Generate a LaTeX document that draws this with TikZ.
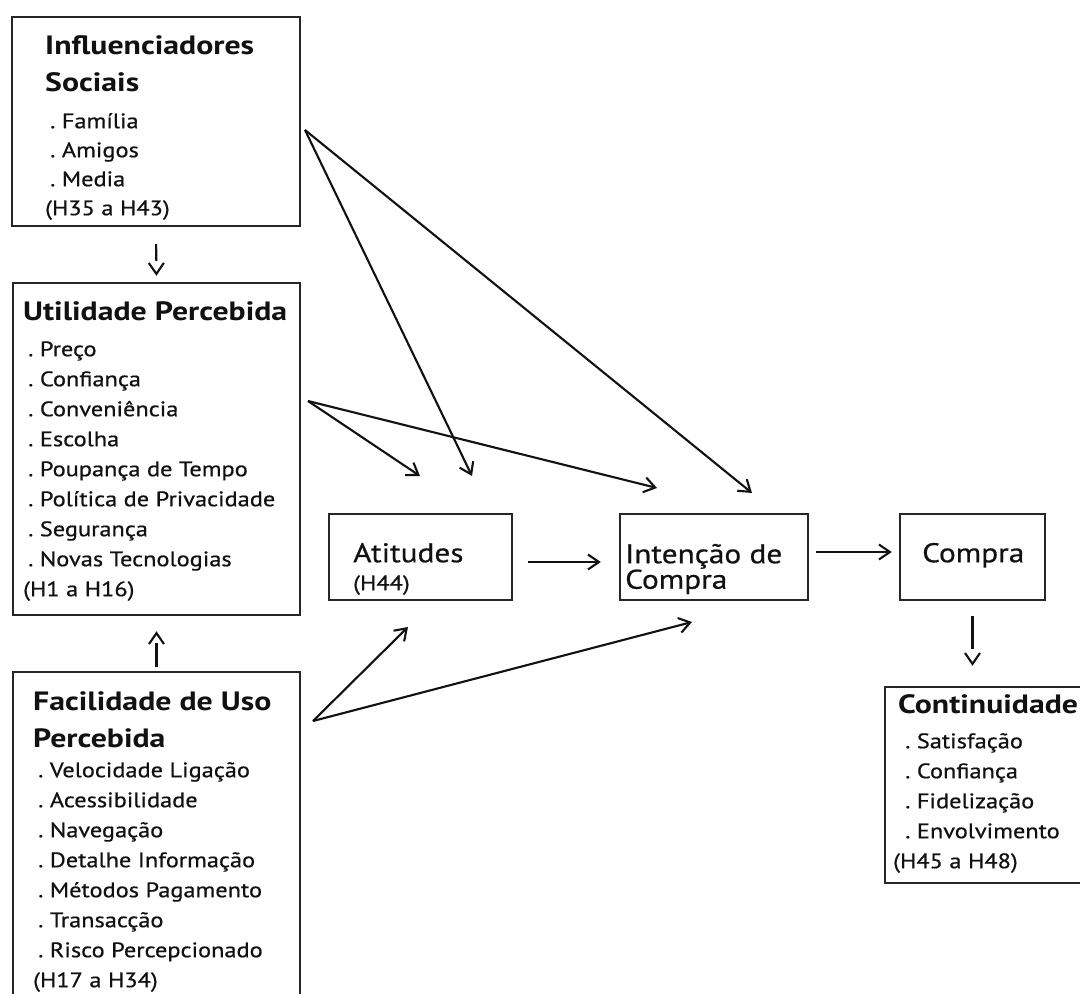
\documentclass[tikz,border=0pt]{standalone}
\usepackage{fontspec}
\setmainfont{PT Sans}[FakeStretch=1.16, UprightFeatures={FakeBold=0.6}, BoldFeatures={FakeStretch=1.2}]
\usetikzlibrary{arrows.meta}
\definecolor{ink}{HTML}{111111}
\definecolor{frame}{HTML}{262626}
% headings, list items and a strut that fixes the height of a first line
\newcommand{\hd}[1]{{\bfseries\fontsize{26.5}{30}\selectfont #1}}
\newcommand{\itm}{\hspace*{5pt}.\ }
\newcommand{\fst}{\rule{0pt}{20pt}}
\newcommand{\fstbig}{\rule{0pt}{22pt}}
\tikzset{
  box/.style={draw=frame, line width=2.4pt, inner sep=0pt},
  txt/.style={anchor=north west, inner sep=0pt, align=left, text=ink},
  conn/.style={draw=ink, line width=2.1pt,
    -{Straight Barb[length=11pt, width=15pt]}},
  % a short stroke, a gap, then the tip on its own
  gapconn/.style={conn, dash pattern=on #1 off 80pt},
  listfont/.style={font=\fontsize{21}{#1}\selectfont},
  bigfont/.style={font=\fontsize{27}{#1}\selectfont},
}
\begin{document}
\begin{tikzpicture}[x=1pt, y=-1pt]
\useasboundingbox (0,0) rectangle (1080,994);
\clip (0,0) rectangle (1080,994);
\fill[white] (0,0) rectangle (1080,994);

% ---- boxes ----
\node[box, minimum width=288pt, minimum height=209pt] (inf)  at (156,121.5) {};
\node[box, minimum width=287pt, minimum height=332pt] (util) at (156.5,449) {};
\node[box, minimum width=287pt, minimum height=338pt] (fac)  at (156.5,841) {};
\node[box, minimum width=183pt, minimum height=86pt]  (att)  at (420.5,557) {};
\node[box, minimum width=188pt, minimum height=86pt]  (int)  at (714,557) {};
\node[box, minimum width=145pt, minimum height=86pt]  (buy)  at (972.5,557) {};
\node[box, minimum width=210pt, minimum height=196pt] (cont) at (990,785) {};

% ---- texts ----
\node[txt, listfont=29] (infT) at (45,34) {%
  \fst\hd{Influenciadores}\\[8pt]
  \hd{Sociais}\\[8pt]
  \itm Família\\
  \itm Amigos\\
  \itm Media\\
  (H35 a H43)};

\node[txt, listfont=30] (utilT) at (23,300) {%
  \fst\hd{Utilidade Percebida}\\[6pt]
  \itm Preço\\
  \itm Confiança\\
  \itm Conveniência\\
  \itm Escolha\\
  \itm Poupança de Tempo\\
  \itm Política de Privacidade\\
  \itm Segurança\\
  \itm Novas Tecnologias\\
  (H1 a H16)};

\node[txt, listfont=30] (facT) at (33,690) {%
  \fst\hd{Facilidade de Uso}\\[7pt]
  \hd{Percebida}\\
  \itm Velocidade Ligação\\
  \itm Acessibilidade\\
  \itm Navegação\\
  \itm Detalhe Informação\\
  \itm Métodos Pagamento\\
  \itm Transacção\\
  \itm Risco Percepcionado\\
  (H17 a H34)};

\node[txt, bigfont=28] (attT) at (353,540) {%
  \fstbig Atitudes\\
  {\fontsize{21}{28}\selectfont (H44)}};

\node[txt, bigfont=25.5] (intT) at (625,541) {%
  \fstbig Intenção de\\
  Compra};

\node[txt, bigfont=28] (buyT) at (922,540) {\fstbig Compra};

\node[txt, listfont=30] (contT) at (893,693) {%
  \fst\hspace*{5pt}\hd{Continuidade}\\[5pt]
  \hspace*{7pt}\itm Satisfação\\
  \hspace*{7pt}\itm Confiança\\
  \hspace*{7pt}\itm Fidelização\\
  \hspace*{7pt}\itm Envolvimento\\
  (H45 a H48)};

% ---- connector ends ----
\coordinate (infOut)  at (305,130);
\coordinate (utilOut) at (308,401);
\coordinate (facOut)  at (313,721);
\coordinate (attIn1)  at (420,476);
\coordinate (attIn2)  at (472,476);
\coordinate (attIn3)  at (408,627);
\coordinate (intIn1)  at (657,488);
\coordinate (intIn2)  at (752,493);
\coordinate (intIn3)  at (692,622);

% ---- vertical connectors ----
\draw[gapconn=17pt, shorten <=17pt, shorten >=6pt] (inf.south) -- (util.north);
\draw[gapconn=24pt, shorten <=4pt, shorten >=15pt] (fac.north) -- (util.south);
\draw[gapconn=33pt, shorten <=15pt, shorten >=20pt] (buy.south) -- (buy.south |- cont.north);

% ---- horizontal connectors ----
\draw[conn, shorten <=15pt, shorten >=18pt] ([yshift=-5pt]att.east) -- ([yshift=-5pt]int.west);
\draw[conn, shorten <=7pt, shorten >=7pt] ([yshift=5pt]int.east) -- ([yshift=5pt]buy.west);

% ---- diagonal connectors ----
\draw[conn] (utilOut) -- (attIn1);
\draw[conn] (infOut) -- (attIn2);
\draw[conn] (utilOut) -- (intIn1);
\draw[conn] (infOut) -- (intIn2);
\draw[conn] (facOut) -- (attIn3);
\draw[conn] (facOut) -- (intIn3);
\end{tikzpicture}
\end{document}
